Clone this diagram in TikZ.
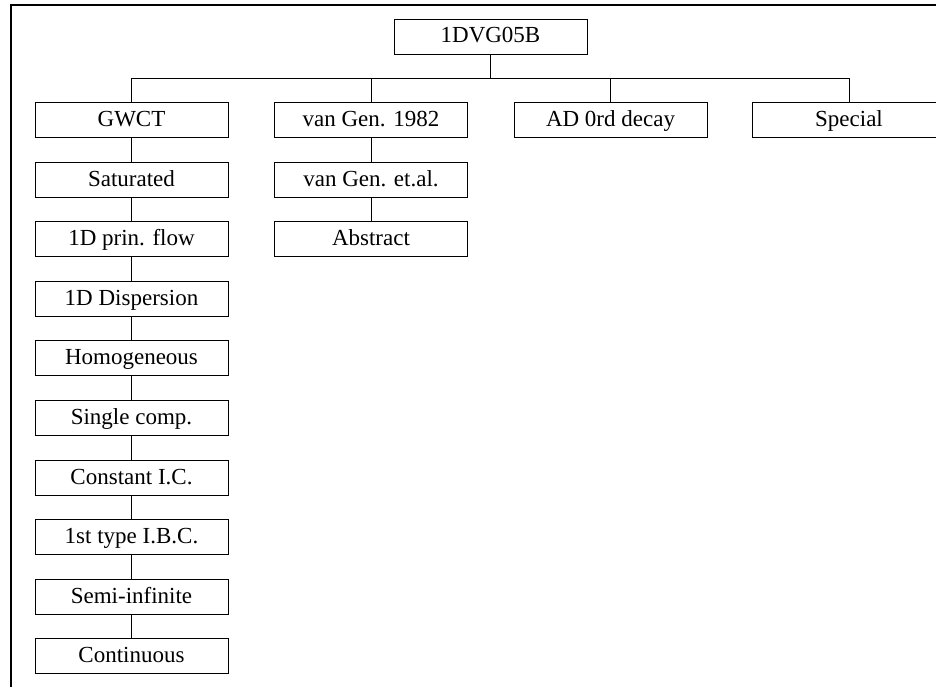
\documentclass[tikz,border=0pt]{standalone}
\usepackage{fontspec}
\setmainfont{Liberation Serif}
\begin{document}
\begin{tikzpicture}[x=1pt,y=-1pt,
  box/.style={draw, line width=0.9pt, minimum width=193pt, minimum height=35pt,
    inner sep=0pt, text height=16.5pt, text depth=3.5pt,
    font=\fontsize{23}{25}\selectfont},
  link/.style={line width=0.9pt},
  frame/.style={line width=2.6pt, line join=miter}]
\useasboundingbox (0,0) rectangle (936,687);

% outer frame (top and left edges)
\draw[frame] (11,687) -- (11,5) -- (936,5);

% root and first level
\node[box] (root) at (490.5,36.5) {1DVG05B};
\node[box] (gwct) at (131.5,120) {GWCT};
\node[box] (vg)   at (371,120)   {van Gen. 1982};
\node[box] (ad)   at (610.5,120) {AD 0rd decay};
\node[box] (sp)   at (849,120)   {Special};

% GWCT branch
\node[box] (g1) at (131.5,179.6) {Saturated};
\node[box] (g2) at (131.5,239.2) {1D prin. flow};
\node[box] (g3) at (131.5,298.8) {1D Dispersion};
\node[box] (g4) at (131.5,358.4) {Homogeneous};
\node[box] (g5) at (131.5,418.0) {Single comp.};
\node[box] (g6) at (131.5,477.6) {Constant I.C.};
\node[box] (g7) at (131.5,537.2) {1st type I.B.C.};
\node[box] (g8) at (131.5,596.8) {Semi-infinite};
\node[box] (g9) at (131.5,656.4) {Continuous};

% van Genuchten branch
\node[box] (v1) at (371,179.6) {van Gen. et.al.};
\node[box] (v2) at (371,239.2) {Abstract};

% bus connecting root to the first level
\coordinate (bus) at (490.5,78.5);
\draw[link] (root.south) -- (bus);
\draw[link] (gwct.north) |- (bus) -| (sp.north);
\draw[link] (vg.north) -- (vg.north |- bus);
\draw[link] (ad.north) -- (ad.north |- bus);

% vertical chains
\foreach \a/\b in {gwct/g1,g1/g2,g2/g3,g3/g4,g4/g5,g5/g6,g6/g7,g7/g8,g8/g9,vg/v1,v1/v2}
  \draw[link] (\a.south) -- (\b.north);
\end{tikzpicture}
\end{document}
